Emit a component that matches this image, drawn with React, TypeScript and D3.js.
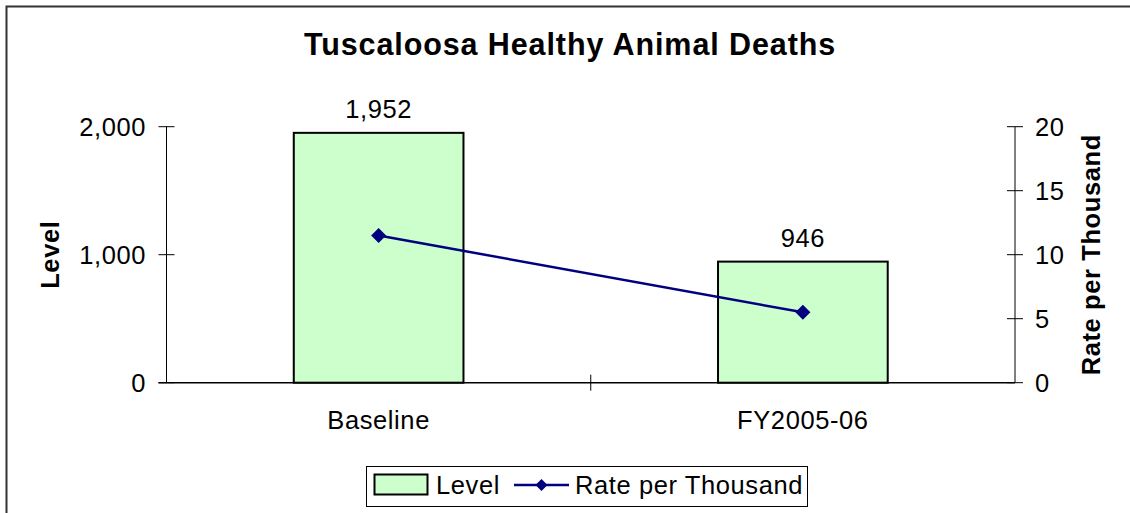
import * as d3 from 'd3'

const categories = ['Baseline', 'FY2005-06']
const levelValues = [1952, 946]
const rateValues = [11.5, 5.5]
const levelTicks = [0, 1000, 2000]
const rateTicks = [0, 5, 10, 15, 20]

const FONT = '"Liberation Sans", Arial, Helvetica, sans-serif'
const FS = 25.5
const LS = 0.6

const W = 1130
const H = 513
const plot = { left: 166.5, right: 1015, top: 126.7, bottom: 382.7 }

const App = () => {
  const x = d3.scaleBand().domain(categories).range([plot.left, plot.right]).padding(0)
  const y = d3.scaleLinear().domain([0, 2000]).range([plot.bottom, plot.top])
  const y2 = d3.scaleLinear().domain([0, 20]).range([plot.bottom, plot.top])
  const barW = x.bandwidth() * 0.4
  const fmt = d3.format(',')
  const cx = (c: string) => (x(c) as number) + x.bandwidth() / 2

  const line = d3
    .line<number>()
    .x((d, i) => cx(categories[i]))
    .y((d) => y2(d))

  const diamond = (r: number) => `M0,${-r}L${r},0L0,${r}L${-r},0Z`

  // category separators on the x axis
  const sepX = [plot.left, ...categories.map((c) => (x(c) as number) + x.bandwidth())]

  return (
    <svg
      width={W}
      height={H}
      style={{ position: 'absolute', left: 0, top: 0, background: '#fff' }}
      fontFamily={FONT}
      letterSpacing={LS}
    >
      <rect x={6.5} y={6.5} width={W + 20} height={H + 20} fill='#fff' stroke='#333' strokeWidth={2} />

      <text x={570} y={55} textAnchor='middle' fontSize={30.5} fontWeight='bold' letterSpacing={0.9}>
        Tuscaloosa Healthy Animal Deaths
      </text>

      {/* bars */}
      {categories.map((c, i) => (
        <rect
          key={c}
          x={cx(c) - barW / 2}
          y={y(levelValues[i])}
          width={barW}
          height={y(0) - y(levelValues[i])}
          fill='#CCFFCC'
          stroke='#000'
          strokeWidth={2}
        />
      ))}
      {categories.map((c, i) => (
        <text key={c} x={cx(c)} y={y(levelValues[i]) - 15} textAnchor='middle' fontSize={FS}>
          {fmt(levelValues[i])}
        </text>
      ))}

      {/* left axis */}
      <line x1={plot.left} x2={plot.left} y1={plot.top} y2={plot.bottom} stroke='#000' strokeWidth={1} />
      {levelTicks.map((t) => (
        <g key={t}>
          <line x1={plot.left - 8} x2={plot.left + 8} y1={y(t)} y2={y(t)} stroke='#000' />
          <text x={146} y={y(t)} dy='0.36em' textAnchor='end' fontSize={FS}>
            {fmt(t)}
          </text>
        </g>
      ))}
      <text
        transform={`translate(50,${(plot.top + plot.bottom) / 2}) rotate(-90)`}
        textAnchor='middle'
        dy='0.36em'
        fontSize={FS}
        fontWeight='bold'
      >
        Level
      </text>

      {/* right axis */}
      <line x1={plot.right} x2={plot.right} y1={plot.top} y2={plot.bottom} stroke='#000' strokeWidth={1} />
      {rateTicks.map((t) => (
        <g key={t}>
          <line x1={plot.right - 8} x2={plot.right + 8} y1={y2(t)} y2={y2(t)} stroke='#000' />
          <text x={1035} y={y2(t)} dy='0.36em' textAnchor='start' fontSize={FS}>
            {t}
          </text>
        </g>
      ))}
      <text
        transform={`translate(1091,${(plot.top + plot.bottom) / 2}) rotate(-90)`}
        textAnchor='middle'
        dy='0.36em'
        fontSize={FS}
        fontWeight='bold'
      >
        Rate per Thousand
      </text>

      {/* x axis */}
      <line x1={plot.left - 8} x2={plot.right} y1={plot.bottom} y2={plot.bottom} stroke='#000' strokeWidth={1.5} />
      {sepX.slice(1, -1).map((sx) => (
        <line key={sx} x1={sx} x2={sx} y1={plot.bottom - 8} y2={plot.bottom + 8} stroke='#000' />
      ))}
      {categories.map((c) => (
        <text key={c} x={cx(c)} y={420} dy='0.36em' textAnchor='middle' fontSize={FS}>
          {c}
        </text>
      ))}

      {/* rate line */}
      <path d={line(rateValues) as string} fill='none' stroke='#000080' strokeWidth={2.5} />
      {rateValues.map((v, i) => (
        <path key={i} transform={`translate(${cx(categories[i])},${y2(v)})`} d={diamond(7.5)} fill='#000080' />
      ))}

      {/* legend */}
      <rect x={366.5} y={466.5} width={441} height={40} fill='#fff' stroke='#000' strokeWidth={1} />
      <rect x={374.5} y={474.5} width={53} height={20} fill='#CCFFCC' stroke='#000' strokeWidth={2} />
      <text x={436} y={485} dy='0.36em' fontSize={FS}>
        Level
      </text>
      <line x1={514} x2={569} y1={485} y2={485} stroke='#000080' strokeWidth={2.5} />
      <path transform='translate(541.5,485)' d={diamond(6)} fill='#000080' />
      <text x={575} y={485} dy='0.36em' fontSize={FS}>
        Rate per Thousand
      </text>
    </svg>
  )
}

export default App
